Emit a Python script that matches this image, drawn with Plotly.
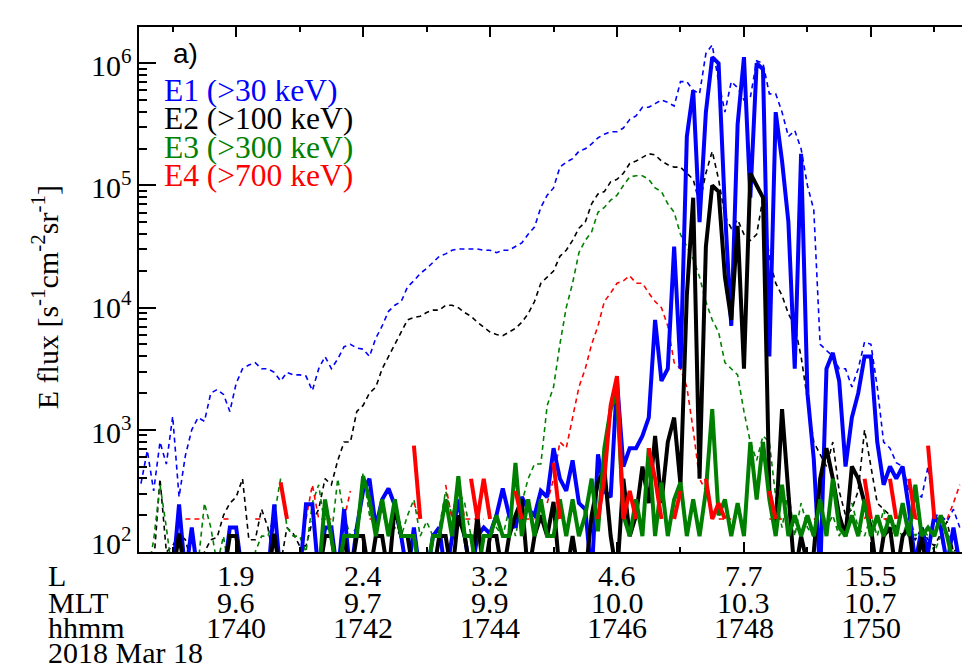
import plotly.graph_objects as go

N = None
# sample times, minutes after 17:00 UT (6 s cadence)
minutes = [round(38.5 + 0.1 * i, 1) for i in range(130)]

# log10 of flux; None = no counts
e1_dash = [2.56, 2.83, 2.50, 2.90, 2.72, 3.11, 2.45, 2.79, 3.00, 3.10,
           3.07, 3.30, 3.33, 3.29, 3.15, 3.38, 3.50, 3.53, 3.55, 3.50,
           3.50, 3.47, 3.40, 3.47, 3.45, 3.45, 3.44, 3.32, 3.50, 3.60,
           3.50, 3.58, 3.68, 3.70, 3.67, 3.66, 3.60, 3.75, 3.85, 3.97,
           4.02, 4.05, 4.17, 4.22, 4.28, 4.32, 4.37, 4.42, 4.44, 4.47,
           4.48, 4.48, 4.48, 4.48, 4.47, 4.47, 4.45, 4.47, 4.47, 4.50,
           4.53, 4.60, 4.66, 4.82, 4.92, 4.98, 5.15, 5.19, 5.22, 5.28,
           5.30, 5.34, 5.39, 5.42, 5.44, 5.44, 5.47, 5.54, 5.57, 5.64,
           5.64, 5.67, 5.70, 5.68, 5.65, 5.85, 5.85, 5.78, 5.75, 6.08,
           6.15, 5.85, 5.60, 5.85, 5.80, 5.70, 5.72, 6.02, 6.00, 5.75,
           5.75, 5.60, 5.40, 5.45, 5.30, 5.00, 4.80, 3.70, 3.65, 3.60,
           3.50, 3.50, 3.35, 3.50, 3.72, 3.70, 3.35, 2.90, 2.85, 2.73,
           2.70, 2.50, 2.48, 2.45, 2.70, 2.30, 2.30, 2.25, 2.35, 2.20]

e2_dash = [1.80, 1.80, 1.90, 2.60, 2.00, 2.05, 2.15, 2.10, 1.90, 1.90,
           2.00, 2.10, 2.12, 2.30, 2.40, 2.45, 2.60, 2.10, 2.10, 2.35,
           2.20, 1.90, 1.90, 2.20, 2.15, 2.05, 2.05, 2.25, 2.35, 2.60,
           2.55, 2.75, 2.90, 2.90, 3.15, 3.20, 3.30, 3.35, 3.50, 3.60,
           3.70, 3.80, 3.90, 3.92, 3.93, 3.96, 3.98, 3.98, 4.02, 4.02,
           4.00, 3.96, 3.93, 3.88, 3.84, 3.80, 3.78, 3.77, 3.80, 3.83,
           3.88, 3.95, 4.05, 4.20, 4.25, 4.30, 4.42, 4.47, 4.55, 4.65,
           4.70, 4.85, 4.93, 4.95, 5.03, 5.05, 5.10, 5.18, 5.20, 5.23,
           5.26, 5.25, 5.20, 5.17, 5.15, 5.15, 5.10, 5.05, 4.85, 5.10,
           5.28, 5.05, 4.75, 4.65, 4.72, 4.60, 4.55, 4.60, 4.90, 4.40,
           4.20, 4.10, 3.95, 3.85, 3.60, 3.25, 2.90, 2.80, 2.70, 2.90,
           2.50, 2.30, 2.35, 2.50, 3.00, 2.70, 2.40, 2.35, 2.30, 2.20,
           2.35, 2.15, 2.10, 2.20, 2.10, 2.05, 2.15, 2.25, 2.00, 2.05]

e3_dash = [1.80, 1.80, 2.10, 2.55, 2.20, 1.80, 1.80, 1.80, 1.80, 1.90,
           2.40, 2.20, 1.90, 2.13, 1.80, 1.80, 1.80, 1.80, 2.00, 2.13,
           2.13, 2.30, 2.60, 2.20, 2.13, 2.13, 2.00, 2.40, 2.55, 2.20,
           2.13, 2.60, 2.30, 2.13, 2.20, 2.65, 2.30, 2.20, 2.35, 2.13,
           2.20, 2.13, 2.30, 2.43, 2.13, 2.25, 2.13, 2.20, 2.50, 2.30,
           2.50, 2.40, 2.13, 2.13, 2.13, 2.13, 2.20, 2.13, 2.35, 2.13,
           2.40, 2.60, 2.72, 2.72, 3.20, 3.35, 3.70, 4.00, 4.20, 4.45,
           4.55, 4.62, 4.78, 4.82, 4.88, 4.92, 5.00, 5.07, 5.08, 5.08,
           5.05, 4.98, 4.95, 4.85, 4.78, 4.60, 4.50, 4.40, 4.25, 4.05,
           3.90, 3.80, 3.55, 3.50, 3.45, 3.15, 2.90, 2.75, 2.95, 2.90,
           2.45, 2.20, 2.50, 2.13, 2.40, 2.20, 2.13, 2.45, 2.20, 2.30,
           2.13, 2.25, 2.40, 2.20, 2.13, 2.30, 2.13, 2.35, 2.13, 2.20,
           2.13, 2.30, 2.13, 2.20, 2.13, 2.00, 2.13, 1.90, 1.80, 1.80]

e4_dash = [N, N, N, N, N, N, N, 2.27, 2.27, 2.27,
           2.27, N, N, 2.27, 2.27, N, N, N, 2.27, 2.27,
           N, N, N, N, N, N, 2.27, 2.55, 2.27, 2.27,
           2.27, N, 2.27, 2.50, N, N, 2.27, 2.27, N, N,
           N, N, N, 2.40, 2.27, N, N, N, 2.55, 2.27,
           2.60, 2.27, 2.27, 2.27, 2.27, N, N, N, N, 2.27,
           2.27, 2.27, 2.27, N, 2.40, 2.60, 2.90, 2.85, 3.10, 3.35,
           3.50, 3.70, 3.85, 4.05, 4.12, 4.20, 4.22, 4.26, 4.20, 4.20,
           4.12, 4.05, 4.00, 3.85, 3.55, 3.50, 3.35, 3.00, 2.60, 2.50,
           2.30, 2.27, 2.27, 2.27, N, N, N, N, N, 2.27,
           2.27, 2.27, N, N, N, N, 2.27, 2.27, N, N,
           N, 2.27, 2.27, N, 2.27, 2.40, N, 2.27, 2.27, N,
           N, N, 2.27, 2.27, N, N, N, 2.27, 2.40, 2.55]

e1_solid = [1.8, 1.8, 1.8, 1.8, 1.8, 1.8, 2.39, 1.8, 2.2, 1.8,
            1.8, 1.8, 1.8, 1.8, 2.2, 2.2, 1.8, 1.8, 1.8, 1.8,
            1.8, 2.39, 1.8, 1.8, 1.8, 1.8, 2.39, 2.39, 1.8, 2.2,
            2.2, 1.8, 2.35, 1.8, 2.2, 2.5, 2.6, 2.2, 2.43, 2.52,
            2.38, 2.13, 1.8, 2.2, 1.8, 1.8, 2.13, 2.2, 1.8, 2.13,
            2.43, 2.13, 1.8, 2.13, 2.2, 2.15, 2.3, 2.52, 2.3, 2.2,
            2.45, 2.35, 2.3, 2.5, 2.45, 2.85, 2.6, 2.5, 2.75, 2.4,
            2.35, 1.8, 2.8, 2.5, 2.45, 3.4, 2.7, 2.85, 2.85, 2.95,
            3.1, 3.9, 3.4, 3.5, 4.5, 3.5, 5.4, 5.78, 4.7, 5.6,
            6.05, 6.0, 4.8, 3.85, 5.5, 6.05, 4.9, 6.0, 5.95, 3.6,
            5.6, 5.2, 4.7, 3.5, 5.26, 3.3, 2.76, 1.8, 3.5, 3.63,
            3.4, 2.7, 3.1, 3.3, 3.6, 3.6, 2.9, 2.55, 2.7, 2.6,
            2.7, 2.35, 1.9, 2.2, 2.0, 2.3, 2.2, 1.9, 2.2, 1.9]

e2_solid = [1.8, 1.8, 1.8, 1.8, 1.8, 1.8, 2.15, 1.8, 1.8, 1.8,
            1.8, 1.8, 1.8, 1.8, 2.13, 2.13, 1.8, 1.8, 1.8, 1.8,
            1.8, 2.15, 1.8, 1.8, 1.8, 1.8, 1.8, 1.8, 1.8, 2.13,
            2.13, 1.8, 2.13, 1.8, 2.13, 2.13, 1.8, 2.13, 2.13, 1.8,
            2.38, 2.13, 2.13, 1.8, 1.8, 1.8, 1.8, 2.13, 2.13, 1.8,
            2.3, 2.13, 1.8, 2.3, 1.8, 2.13, 2.13, 1.8, 2.13, 2.3,
            2.43, 1.8, 2.13, 2.3, 2.13, 2.41, 1.8, 1.8, 2.13, 1.8,
            1.8, 2.3, 2.57, 2.68, 2.13, 1.8, 2.6, 2.13, 2.3, 2.7,
            2.4, 2.95, 2.4, 2.9, 3.1, 2.55, 4.1, 4.9, 2.6, 4.5,
            5.0, 4.95, 4.25, 3.9, 4.67, 3.5, 5.1, 5.0, 4.9, 2.5,
            2.2, 3.17, 2.5, 1.8, 2.13, 1.9, 2.0, 2.6, 2.85, 2.6,
            2.3, 2.13, 2.7, 2.6, 2.4, 2.2, 1.8, 2.13, 2.2, 1.8,
            2.13, 2.2, 1.8, 2.13, 1.8, 2.0, 1.8, 1.8, 2.0, 1.8]

e3_solid = [1.8, 1.8, 1.8, 1.8, 1.8, 1.8, 1.8, 1.8, 1.8, 1.8,
            1.8, 1.8, 1.8, 1.8, 1.8, 1.8, 1.8, 1.8, 1.8, 1.8,
            1.8, 1.8, 1.8, 1.8, 1.8, 1.8, 1.8, 1.8, 1.8, 2.43,
            2.13, 1.8, 2.13, 2.13, 2.13, 2.62, 2.43, 2.13, 2.43, 2.13,
            2.43, 2.13, 2.13, 2.13, 1.8, 1.8, 2.13, 2.13, 2.43, 2.13,
            2.62, 2.13, 2.13, 1.8, 2.13, 2.13, 2.3, 2.13, 2.13, 2.73,
            2.13, 2.43, 2.13, 2.43, 2.13, 2.13, 2.43, 2.13, 2.43, 2.13,
            2.3, 2.6, 2.17, 2.85, 3.17, 3.3, 2.3, 2.13, 2.43, 2.13,
            2.85, 2.13, 2.57, 2.13, 2.43, 2.57, 2.13, 2.43, 2.13, 2.5,
            3.17, 2.3, 2.43, 2.13, 2.4, 2.13, 2.9, 2.43, 2.9, 2.43,
            2.13, 2.55, 2.13, 2.3, 2.13, 2.3, 2.13, 2.43, 2.13, 2.6,
            2.2, 2.13, 2.3, 2.13, 2.43, 2.13, 2.3, 2.13, 2.3, 2.13,
            2.4, 2.13, 2.55, 2.13, 2.2, 2.13, 2.3, 2.13, 1.9, 1.8]

e4_solid = [N, N, N, N, N, N, N, N, N, N,
            N, N, N, N, N, N, N, N, N, N,
            N, N, 2.57, 2.27, N, N, N, N, N, N,
            N, N, N, N, N, N, N, N, N, N,
            N, N, N, 2.87, 2.27, N, N, N, N, N,
            N, N, 2.6, 2.27, 2.6, 2.27, N, N, N, 2.5,
            2.27, N, N, N, N, 2.73, 2.27, N, N, N,
            N, N, 2.27, 2.6, 3.2, 3.44, 2.27, 2.5, 2.27, N,
            2.85, 2.6, 2.27, N, 2.27, 2.5, N, N, N, 2.6,
            2.27, 2.4, 2.27, N, N, N, N, N, N, 2.5,
            2.27, N, N, N, N, N, N, N, N, N,
            N, N, N, N, 2.6, 2.27, N, N, 2.6, 2.27,
            N, 2.6, 2.27, N, 2.87, 2.27, N, N, N, N]

channels = ["E1 (>30 keV)", "E2 (>100 keV)", "E3 (>300 keV)", "E4 (>700 keV)"]
colors = ["#0000ff", "#000000", "#008000", "#ff0000"]

tick_minutes = [40, 42, 44, 46, 48, 50]
L_labels = ["1.9", "2.4", "3.2", "4.6", "7.7", "15.5"]
MLT_labels = ["9.6", "9.7", "9.9", "10.0", "10.3", "10.7"]
hhmm_labels = ["1740", "1742", "1744", "1746", "1748", "1750"]
date_label = "2018 Mar 18"


def flux(logs):
    return [None if v is None else 10 ** v for v in logs]


fig = go.Figure()
for logs, col in zip([e1_dash, e2_dash, e3_dash, e4_dash], colors):
    fig.add_trace(go.Scatter(x=minutes, y=flux(logs), mode="lines",
                             line=dict(color=col, width=1.6, dash="5px,4px"),
                             connectgaps=False, hoverinfo="skip"))
for logs, col in zip([e1_solid, e2_solid, e3_solid, e4_solid], colors):
    fig.add_trace(go.Scatter(x=minutes, y=flux(logs), mode="lines",
                             line=dict(color=col, width=4),
                             connectgaps=False, hoverinfo="skip"))

W, H = 962, 665
L_px, R_px, T_px, B_px = 139, 962, 27, 551.7
pw, ph = R_px - L_px, B_px - T_px


def px(x):
    return (x - L_px) / pw


def py(y):
    return (B_px - y) / ph


serif = "Liberation Serif"
ann = []
# y tick labels
for e, ycen in zip([6, 5, 4, 3, 2], [62.5, 184.5, 305, 429.5, 540.5]):
    ann.append(dict(text=f"10<sup>{e}</sup>", xref="paper", yref="paper",
                    x=px(134), y=py(ycen), xanchor="right", yanchor="middle",
                    showarrow=False, font=dict(family=serif, size=30, color="black")))
# x tick label rows (tight rows as in the original)
row_y = [575, 601.7, 626.7]
for t, a, b, c in zip(tick_minutes, L_labels, MLT_labels, hhmm_labels):
    for txt, yc in zip([a, b, c], row_y):
        ann.append(dict(text=txt, xref="x", yref="paper", x=t, y=py(yc),
                        xanchor="center", yanchor="middle", height=24,
                        showarrow=False,
                        font=dict(family=serif, size=30, color="black")))
for txt, yc in zip(["L", "MLT", "hhmm", date_label], row_y + [652]):
    ann.append(dict(text=txt, xref="paper", yref="paper", x=px(45.5), y=py(yc),
                    xanchor="left", yanchor="middle", height=24, showarrow=False,
                    font=dict(family=serif, size=30, color="black")))
# channel legend
for txt, col, base in zip(channels, colors, [101.4, 129.6, 158.0, 186.4]):
    ann.append(dict(text=txt, xref="paper", yref="paper", x=px(162),
                    y=py(base - 7.2), xanchor="left", yanchor="middle",
                    height=28, valign="bottom", showarrow=False,
                    font=dict(family=serif, size=31.5, color=col)))
# panel label
ann.append(dict(text="a)", xref="paper", yref="paper", x=px(171), y=py(53),
                xanchor="left", yanchor="middle", showarrow=False,
                font=dict(family="Liberation Sans", size=28, color="black")))
# y-axis title
ann.append(dict(text="E flux [s<sup>-1</sup>cm<sup>-2</sup>sr<sup>-1</sup>]",
                xref="paper", yref="paper", x=px(44.6), y=py(297.5),
                xanchor="center", yanchor="middle", textangle=-90, showarrow=False,
                font=dict(family=serif, size=30, color="black")))

minor_y = [m * 10 ** e for e in range(2, 6) for m in range(2, 10)]

fig.update_layout(
    width=W, height=H,
    margin=dict(l=L_px, r=W - R_px, t=T_px, b=H - B_px),
    plot_bgcolor="white", paper_bgcolor="white", showlegend=False,
    annotations=ann,
    xaxis=dict(range=[38.469, 51.435], showline=True, linecolor="black", linewidth=2,
               mirror="ticks", ticks="inside", ticklen=10, tickwidth=1.5,
               tickcolor="black", tick0=40, dtick=2, showticklabels=False,
               showgrid=False, zeroline=False,
               minor=dict(ticks="inside", ticklen=5, tickwidth=1.5, tickcolor="black",
                          tick0=40, dtick=1, showgrid=False)),
    yaxis=dict(type="log", range=[2, 6.297], showline=True, linecolor="black",
               linewidth=2, ticks="inside", ticklen=17, tickwidth=1.5,
               tickcolor="black", tickmode="array",
               tickvals=[1e2, 1e3, 1e4, 1e5, 1e6], showticklabels=False,
               showgrid=False, zeroline=False,
               minor=dict(ticks="inside", ticklen=8, tickwidth=1.5, tickcolor="black",
                          tickmode="array", tickvals=minor_y, showgrid=False)),
)

fig.write_html("out.html", config={"displayModeBar": False},
               post_script="document.body.style.margin='0px';"
                           "document.body.style.overflow='hidden';")
